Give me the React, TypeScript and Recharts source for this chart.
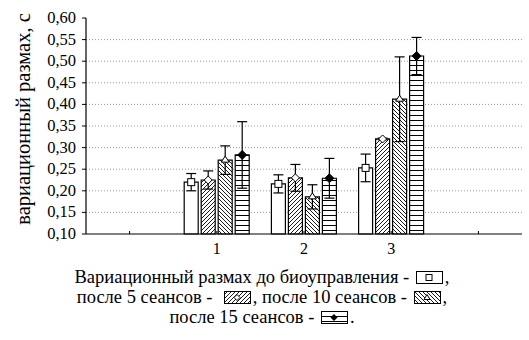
import React from "react";
import { BarChart, Bar, XAxis, YAxis, CartesianGrid, ErrorBar } from "recharts";

// categories: empty slot, three groups, empty slot
const categories = ["", "1", "2", "3", ""];

const before = [null, 0.22, 0.216, 0.253, null];
const beforeErr = [null, 0.02, 0.021, 0.032, null];
const after5 = [null, 0.225, 0.23, 0.32, null];
const after5Err = [null, 0.021, 0.031, 0.002, null];
const after10 = [null, 0.271, 0.186, 0.412, null];
const after10Err = [null, 0.033, 0.028, 0.098, null];
const after15 = [null, 0.283, 0.229, 0.512, null];
const after15Err = [null, 0.077, 0.046, 0.043, null];

const yDomain = [0.1, 0.6];
const yTicks = [0.1, 0.15, 0.2, 0.25, 0.3, 0.35, 0.4, 0.45, 0.5, 0.55, 0.6];
const gridValues = [0.15, 0.2, 0.25, 0.3, 0.35, 0.4, 0.45, 0.5, 0.55];

const data = categories.map((name, i) => ({
  key: i,
  name,
  before: before[i],
  beforeErr: beforeErr[i],
  after5: after5[i],
  after5Err: after5Err[i],
  after10: after10[i],
  after10Err: after10Err[i],
  after15: after15[i],
  after15Err: after15Err[i],
}));

const FONT = "'Liberation Serif', 'Times New Roman', Tinos, 'DejaVu Serif', serif";

const fmt = (v: number) => v.toFixed(2).replace(".", ",");

function XTick({ x, y, payload }: any) {
  const label = categories[payload.value] ?? "";
  return (
    <g>
      <line x1={x} x2={x} y1={y - 3} y2={y} stroke="#000" strokeWidth={1} />
      <text x={x} y={y + 20} textAnchor="middle" style={{ fontFamily: FONT }} fontSize={16} fill="#000">
        {label}
      </text>
    </g>
  );
}

function YTick({ x, y, payload }: any) {
  return (
    <text x={x} y={y + 5} textAnchor="end" style={{ fontFamily: FONT }} fontSize={16.5} fill="#000">
      {fmt(payload.value)}
    </text>
  );
}

function makeMarker(kind: string) {
  return (props: any) => {
    const { x, y, width, value } = props;
    if (value == null) return null;
    const cx = x + width / 2;
    const cy = y;
    if (kind === "square") {
      return <rect x={cx - 3.5} y={cy - 3.5} width={7} height={7} fill="#fff" stroke="#000" strokeWidth={1} />;
    }
    if (kind === "diamond") {
      return (
        <path d={`M${cx},${cy - 4} L${cx + 4},${cy} L${cx},${cy + 4} L${cx - 4},${cy} Z`} fill="#fff" stroke="#000" strokeWidth={1} />
      );
    }
    if (kind === "triangle") {
      return (
        <path d={`M${cx},${cy - 4} L${cx + 4},${cy + 2} L${cx - 4},${cy + 2} Z`} fill="#fff" stroke="#000" strokeWidth={1} />
      );
    }
    return (
      <path d={`M${cx},${cy - 4.5} L${cx + 4.5},${cy} L${cx},${cy + 4.5} L${cx - 4.5},${cy} Z`} fill="#000" stroke="#000" strokeWidth={1} />
    );
  };
}

function Swatch({ fill, marker }: { fill: string; marker: string }) {
  const cx = 13;
  const cy = 6.5;
  let m = null;
  if (marker === "square") m = <rect x={cx - 3} y={cy - 3} width={6} height={6} fill="#fff" stroke="#000" />;
  else if (marker === "diamond")
    m = <path d={`M${cx},${cy - 3} L${cx + 3},${cy} L${cx},${cy + 3} L${cx - 3},${cy} Z`} fill="#fff" stroke="#000" />;
  else if (marker === "triangle")
    m = <path d={`M${cx},${cy - 3} L${cx + 3},${cy + 2} L${cx - 3},${cy + 2} Z`} fill="#fff" stroke="#000" />;
  else m = <path d={`M${cx},${cy - 3.5} L${cx + 3.5},${cy} L${cx},${cy + 3.5} L${cx - 3.5},${cy} Z`} fill="#000" />;
  return (
    <svg width={27} height={14} style={{ verticalAlign: "-2px", margin: "0 2px" }}>
      <rect x={0.5} y={0.5} width={26} height={12} fill={fill} stroke="#000" strokeWidth={1} />
      {m}
    </svg>
  );
}

export default function App() {
  return (
    <div style={{ position: "relative", width: 529, height: 340, background: "#fff" }}>
      <style>{"body{margin:0}"}</style>
      <svg width={0} height={0} style={{ position: "absolute" }}>
        <defs>
          <pattern id="hatchFwd" patternUnits="userSpaceOnUse" width={4} height={4}>
            <rect width={4} height={4} fill="#fff" />
            <path d="M0,4 L4,0 M-1,1 L1,-1 M3,5 L5,3" stroke="#000" strokeWidth={0.9} />
          </pattern>
          <pattern id="hatchBack" patternUnits="userSpaceOnUse" width={4} height={4}>
            <rect width={4} height={4} fill="#fff" />
            <path d="M0,0 L4,4 M-1,3 L1,5 M3,-1 L5,1" stroke="#000" strokeWidth={0.9} />
          </pattern>
          <pattern id="hLines" patternUnits="userSpaceOnUse" width={6} height={5}>
            <rect width={6} height={5} fill="#fff" />
            <line x1={0} x2={6} y1={0.5} y2={0.5} stroke="#000" strokeWidth={1} />
          </pattern>
        </defs>
      </svg>
      <BarChart
        width={529}
        height={340}
        data={data}
        margin={{ top: 18, right: 7, left: 0, bottom: 76 }}
        barSize={14}
        barGap={3}
      >
        <CartesianGrid
          vertical={false}
          stroke="#999"
          strokeDasharray="1 2"
          horizontalCoordinatesGenerator={({ offset }: any) =>
            gridValues.map(
              (v) => offset.top + ((yDomain[1] - v) / (yDomain[1] - yDomain[0])) * offset.height
            )
          }
        />
        <XAxis
          dataKey="key"
          type="category"
          height={30}
          axisLine={{ stroke: "#000", strokeWidth: 1.2 }}
          tickLine={false}
          tickSize={0}
          tickMargin={0}
          tick={<XTick />}
          interval={0}
        />
        <YAxis
          type="number"
          domain={yDomain}
          ticks={yTicks}
          width={86}
          axisLine={{ stroke: "#000", strokeWidth: 1.2 }}
          tickLine={{ stroke: "#000" }}
          tickSize={4}
          tickMargin={6}
          tick={<YTick />}
          interval={0}
          label={() => (
            <text
              x={30}
              y={119}
              transform="rotate(-90 30 119)"
              textAnchor="middle"
              style={{ fontFamily: FONT }}
              fontSize={20.5}
              fill="#000"
            >
              вариационный размах, с
            </text>
          )}
        />
        <Bar dataKey="before" fill="#fff" stroke="#000" strokeWidth={1.2} isAnimationActive={false} label={makeMarker("square")}>
          <ErrorBar dataKey="beforeErr" width={5} stroke="#000" strokeWidth={1.2} />
        </Bar>
        <Bar dataKey="after5" fill="url(#hatchFwd)" stroke="#000" strokeWidth={1.2} isAnimationActive={false} label={makeMarker("diamond")}>
          <ErrorBar dataKey="after5Err" width={5} stroke="#000" strokeWidth={1.2} />
        </Bar>
        <Bar dataKey="after10" fill="url(#hatchBack)" stroke="#000" strokeWidth={1.2} isAnimationActive={false} label={makeMarker("triangle")}>
          <ErrorBar dataKey="after10Err" width={5} stroke="#000" strokeWidth={1.2} />
        </Bar>
        <Bar dataKey="after15" fill="url(#hLines)" stroke="#000" strokeWidth={1.2} isAnimationActive={false} label={makeMarker("filled")}>
          <ErrorBar dataKey="after15Err" width={5} stroke="#000" strokeWidth={1.2} />
        </Bar>
      </BarChart>
      <div
        style={{
          position: "absolute",
          left: 0,
          top: 267,
          width: 524,
          textAlign: "center",
          fontFamily: FONT,
          fontSize: 18.5,
          lineHeight: "20px",
          color: "#000",
        }}
      >
        <div>
          Вариационный размах до биоуправления - <Swatch fill="#fff" marker="square" />,
        </div>
        <div>
          после 5 сеансов - &nbsp;<Swatch fill="url(#hatchFwd)" marker="diamond" />, после 10 сеансов - <Swatch fill="url(#hatchBack)" marker="triangle" />,
        </div>
        <div>
          после 15 сеансов - <Swatch fill="url(#hLines)" marker="filled" />.
        </div>
      </div>
    </div>
  );
}
